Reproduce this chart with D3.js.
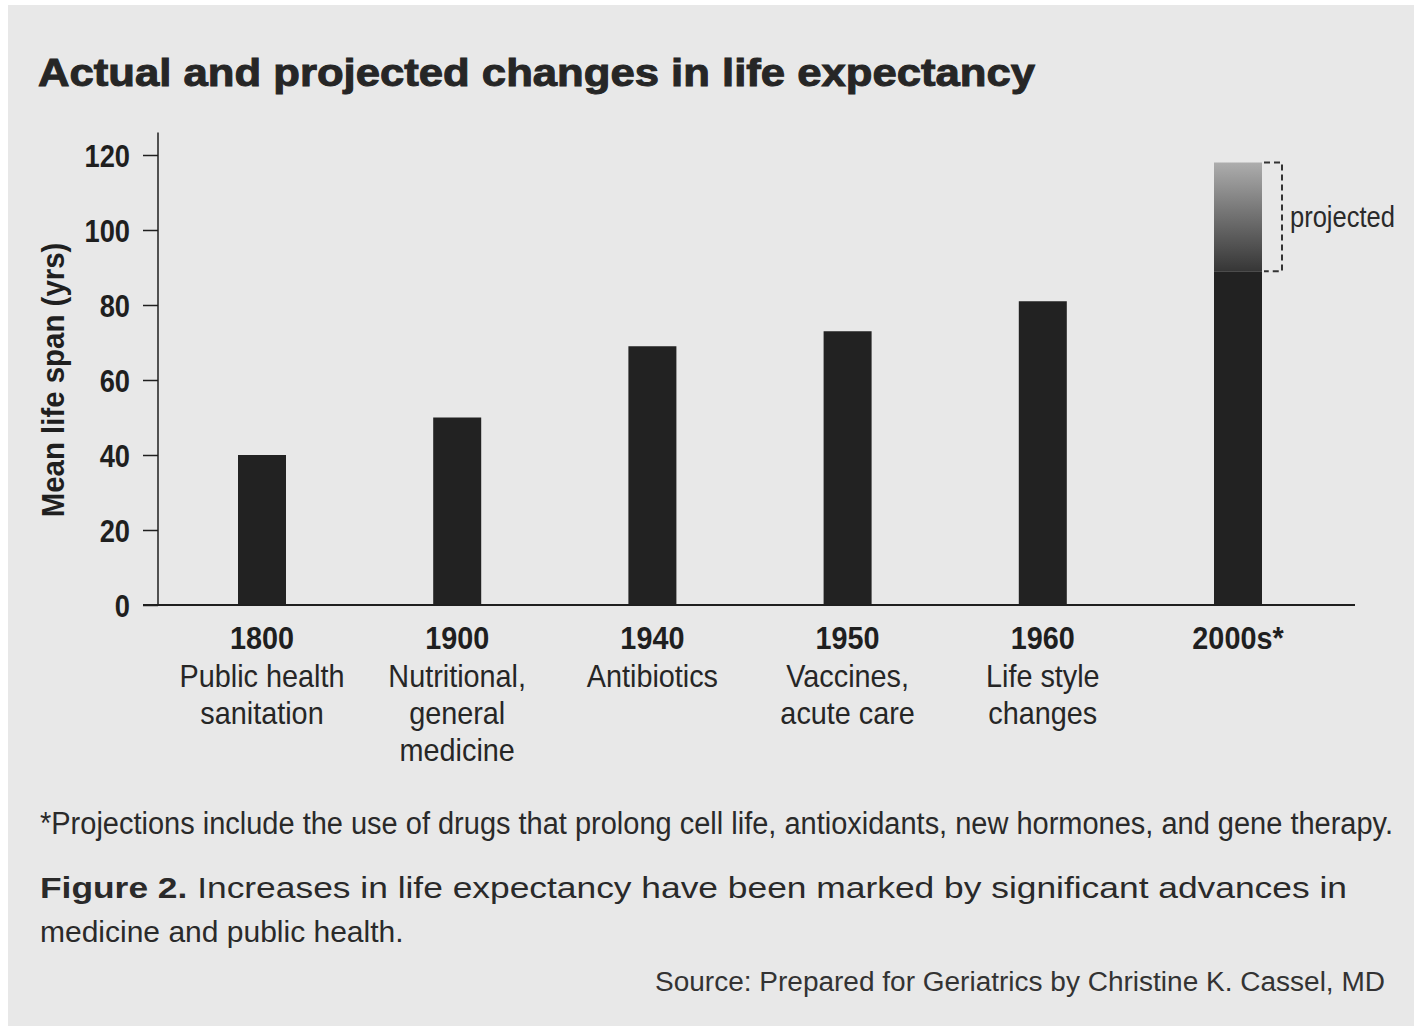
<!DOCTYPE html>
<html>
<head>
<meta charset="utf-8">
<script src="https://cdn.jsdelivr.net/npm/d3@7"></script>
<style>
  html, body { margin: 0; padding: 0; background: #fff; }
  svg { display: block; }
  text { font-family: "Liberation Sans", Arial, Helvetica, sans-serif; }
</style>
</head>
<body>
<svg id="chart" width="1420" height="1028"></svg>
<script>
// chart values
var years = ["1800", "1900", "1940", "1950", "1960", "2000s*"];
var advances = [
  ["Public health", "sanitation"],
  ["Nutritional,", "general", "medicine"],
  ["Antibiotics"],
  ["Vaccines,", "acute care"],
  ["Life style", "changes"],
  []
];
var lifeSpan = [40, 50, 69, 73, 81, 89];
var projected = [null, null, null, null, null, 118];
var yTicks = [0, 20, 40, 60, 80, 100, 120];

var data = years.map(function(d, i) {
  return { year: d, lines: advances[i], value: lifeSpan[i], proj: projected[i] };
});

var svg = d3.select("#chart");
var ink = "#1f1f1f";
var squeeze = 0.9;   // condensed look for the chart labels

// paper background
svg.append("rect")
  .attr("x", 8).attr("y", 5)
  .attr("width", 1406).attr("height", 1021)
  .attr("fill", "#e8e8e8");

var y = d3.scaleLinear().domain([0, 120]).range([605, 155]);
var x = d3.scalePoint().domain(years).range([262, 1238]);
var barW = 48;

// gradient for the projected part
var grad = svg.append("defs").append("linearGradient")
  .attr("id", "projGrad")
  .attr("x1", 0).attr("y1", 0).attr("x2", 0).attr("y2", 1);
grad.append("stop").attr("offset", "0%").attr("stop-color", "#adadad");
grad.append("stop").attr("offset", "45%").attr("stop-color", "#767676");
grad.append("stop").attr("offset", "100%").attr("stop-color", "#363636");

// title
svg.append("text")
  .attr("x", 38).attr("y", 86)
  .attr("font-size", 39).attr("font-weight", "bold")
  .attr("fill", "#262626")
  .attr("stroke", "#262626").attr("stroke-width", 1)
  .attr("textLength", 997).attr("lengthAdjust", "spacingAndGlyphs")
  .text("Actual and projected changes in life expectancy");

// y axis
var yAxis = svg.append("g")
  .attr("transform", "translate(158,0)")
  .call(d3.axisLeft(y).tickValues(yTicks).tickSize(15).tickPadding(12));
yAxis.select(".domain").remove();
yAxis.selectAll(".tick line").attr("stroke", ink).attr("stroke-width", 1.5);
yAxis.selectAll(".tick text")
  .attr("x", -28 / 0.88)
  .attr("transform", "scale(0.88,1)")
  .attr("font-size", 31).attr("font-weight", "bold")
  .attr("fill", ink).attr("dy", "0.36em");

svg.append("line")
  .attr("x1", 158).attr("x2", 158)
  .attr("y1", y(0)).attr("y2", y(126))
  .attr("stroke", ink).attr("stroke-width", 1.5);

svg.append("text")
  .attr("transform", "translate(64," + y(60) + ") rotate(-90) scale(0.92,1)")
  .attr("text-anchor", "middle")
  .attr("font-size", 32).attr("font-weight", "bold")
  .attr("fill", ink)
  .text("Mean life span (yrs)");

// bars
svg.selectAll(".bar")
  .data(data)
  .enter().append("rect")
  .attr("class", "bar")
  .attr("x", function(d) { return x(d.year) - barW / 2; })
  .attr("y", function(d) { return y(d.value); })
  .attr("width", barW)
  .attr("height", function(d) { return y(0) - y(d.value); })
  .attr("fill", "#222");

var projData = data.filter(function(d) { return d.proj != null; });

svg.selectAll(".proj")
  .data(projData)
  .enter().append("rect")
  .attr("class", "proj")
  .attr("x", function(d) { return x(d.year) - barW / 2; })
  .attr("y", function(d) { return y(d.proj); })
  .attr("width", barW)
  .attr("height", function(d) { return y(d.value) - y(d.proj); })
  .attr("fill", "url(#projGrad)");

// dashed bracket
svg.selectAll(".bracket")
  .data(projData)
  .enter().append("path")
  .attr("class", "bracket")
  .attr("d", function(d) {
    var x0 = x(d.year) + barW / 2 + 2, x1 = x(d.year) + barW / 2 + 20;
    return "M" + x0 + "," + y(d.proj) + "H" + x1 + "V" + y(d.value) + "H" + x0;
  })
  .attr("fill", "none")
  .attr("stroke", "#333").attr("stroke-width", 2)
  .attr("stroke-dasharray", "6,4");

svg.selectAll(".projLabel")
  .data(projData)
  .enter().append("text")
  .attr("class", "projLabel")
  .attr("transform", function(d) {
    return "translate(" + (x(d.year) + barW / 2 + 28) + "," + (y((d.proj + d.value) / 2) + 10) + ") scale(0.88,1)";
  })
  .attr("font-size", 29)
  .attr("fill", "#2a2a2a")
  .text("projected");

// baseline
svg.append("line")
  .attr("x1", 143).attr("x2", 1355)
  .attr("y1", y(0)).attr("y2", y(0))
  .attr("stroke", ink).attr("stroke-width", 2);

// category labels
var cat = svg.selectAll(".cat")
  .data(data)
  .enter().append("g")
  .attr("class", "cat")
  .attr("transform", function(d) { return "translate(" + x(d.year) + ",0)"; })
  .attr("text-anchor", "middle")
  .attr("fill", ink);

cat.append("text")
  .attr("transform", "translate(0,649) scale(" + squeeze + ",1)")
  .attr("font-size", 32).attr("font-weight", "bold")
  .text(function(d) { return d.year; });

cat.selectAll(".line")
  .data(function(d) { return d.lines; })
  .enter().append("text")
  .attr("class", "line")
  .attr("transform", function(d, i) { return "translate(0," + (687 + i * 37) + ") scale(" + squeeze + ",1)"; })
  .attr("font-size", 32)
  .attr("fill", "#262626")
  .text(function(d) { return d; });

// footnote, caption, source
svg.append("text")
  .attr("x", 40).attr("y", 834)
  .attr("font-size", 31).attr("fill", "#2a2a2a")
  .attr("textLength", 1353).attr("lengthAdjust", "spacingAndGlyphs")
  .text("*Projections include the use of drugs that prolong cell life, antioxidants, new hormones, and gene therapy.");

var cap = svg.append("text")
  .attr("x", 40).attr("y", 898)
  .attr("font-size", 30).attr("fill", "#2a2a2a")
  .attr("textLength", 1307).attr("lengthAdjust", "spacingAndGlyphs");
cap.append("tspan").attr("font-weight", "bold").text("Figure 2.");
cap.append("tspan").text(" Increases in life expectancy have been marked by significant advances in");

svg.append("text")
  .attr("x", 40).attr("y", 942)
  .attr("font-size", 30).attr("fill", "#2a2a2a")
  .text("medicine and public health.");

svg.append("text")
  .attr("x", 1385).attr("y", 991)
  .attr("text-anchor", "end")
  .attr("font-size", 27).attr("fill", "#333")
  .attr("textLength", 730).attr("lengthAdjust", "spacingAndGlyphs")
  .text("Source: Prepared for Geriatrics by Christine K. Cassel, MD");
</script>
</body>
</html>
